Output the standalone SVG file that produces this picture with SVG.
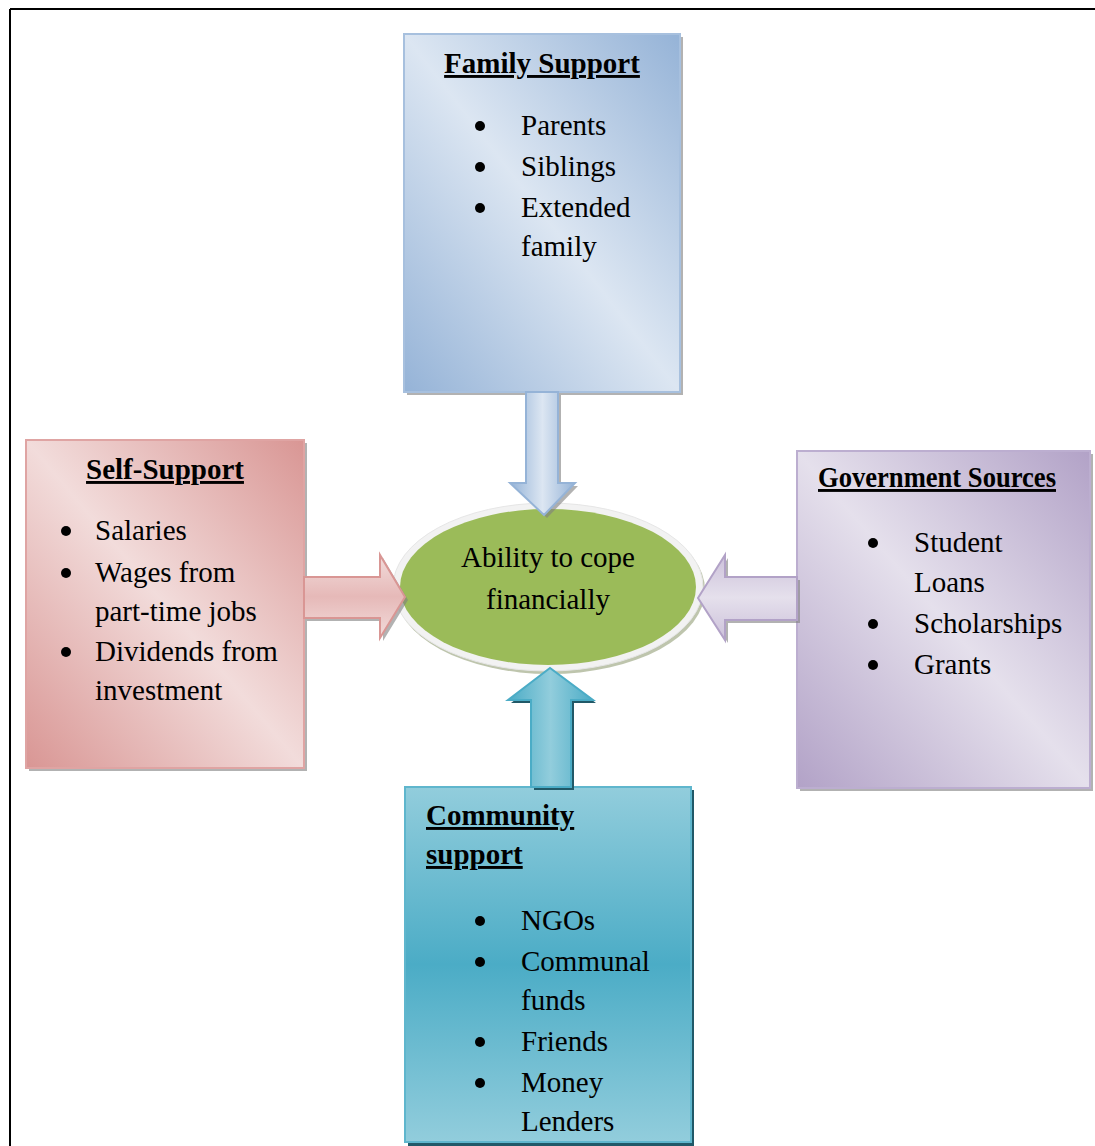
<svg xmlns="http://www.w3.org/2000/svg" width="1095" height="1146" viewBox="0 0 1095 1146">
<defs>
<linearGradient id="gBlue" x1="1" y1="0" x2="0" y2="1"><stop offset="0" stop-color="#95b3d7"/><stop offset="0.5" stop-color="#dce6f2"/><stop offset="1" stop-color="#95b3d7"/></linearGradient>
<linearGradient id="gPink" x1="1" y1="0" x2="0" y2="1"><stop offset="0" stop-color="#d99694"/><stop offset="0.5" stop-color="#f2dcdb"/><stop offset="1" stop-color="#d99694"/></linearGradient>
<linearGradient id="gPurple" x1="1" y1="0" x2="0" y2="1"><stop offset="0" stop-color="#b2a2c7"/><stop offset="0.5" stop-color="#e5e0ec"/><stop offset="1" stop-color="#b2a2c7"/></linearGradient>
<linearGradient id="gTeal" x1="0" y1="0" x2="0" y2="1"><stop offset="0" stop-color="#92cddc"/><stop offset="0.5" stop-color="#4bacc6"/><stop offset="1" stop-color="#92cddc"/></linearGradient>
<linearGradient id="aBlue" x1="0" y1="0" x2="1" y2="0"><stop offset="0" stop-color="#95b3d7"/><stop offset="0.5" stop-color="#dce6f2"/><stop offset="1" stop-color="#95b3d7"/></linearGradient>
<linearGradient id="aPink" x1="0" y1="0" x2="0" y2="1"><stop offset="0" stop-color="#f2dcdb"/><stop offset="0.5" stop-color="#e6b9b8"/><stop offset="1" stop-color="#f2dcdb"/></linearGradient>
<linearGradient id="aPurple" x1="0" y1="0" x2="0" y2="1"><stop offset="0" stop-color="#ccc1da"/><stop offset="0.5" stop-color="#e5e0ec"/><stop offset="1" stop-color="#ccc1da"/></linearGradient>
<linearGradient id="aTeal" x1="0" y1="0" x2="1" y2="0"><stop offset="0" stop-color="#4bacc6"/><stop offset="0.5" stop-color="#92cddc"/><stop offset="1" stop-color="#4bacc6"/></linearGradient>
</defs>
<style>
.t{font-family:"Liberation Serif","Times New Roman",serif;font-size:29px;fill:#000}
.h{font-family:"Liberation Serif","Times New Roman",serif;font-size:29px;font-weight:bold;fill:#000;text-decoration:underline}
.sh{fill:#7f7f7f;opacity:0.6}
</style>
<line x1="10" y1="9" x2="1095" y2="9" stroke="#000" stroke-width="2"/>
<line x1="10" y1="9" x2="10" y2="1146" stroke="#000" stroke-width="2"/>

<g id="family">
<rect class="sh" x="407" y="37" width="276" height="358"/>
<rect x="404" y="34" width="276" height="358" fill="url(#gBlue)" stroke="#a7c0de" stroke-width="2"/>
<text class="h" x="542" y="73" text-anchor="middle">Family Support</text>
<circle cx="480" cy="126" r="5"/><text class="t" x="521" y="135">Parents</text>
<circle cx="480" cy="167" r="5"/><text class="t" x="521" y="176">Siblings</text>
<circle cx="480" cy="208" r="5"/><text class="t" x="521" y="217">Extended</text>
<text class="t" x="521" y="256">family</text>
</g>

<g id="self">
<rect class="sh" x="29" y="443" width="278" height="328"/>
<rect x="26" y="440" width="278" height="328" fill="url(#gPink)" stroke="#dfa4a3" stroke-width="2"/>
<text class="h" x="165" y="479" text-anchor="middle">Self-Support</text>
<circle cx="66" cy="531" r="5"/><text class="t" x="95" y="540">Salaries</text>
<circle cx="66" cy="573" r="5"/><text class="t" x="95" y="582">Wages from</text>
<text class="t" x="95" y="621">part-time jobs</text>
<circle cx="66" cy="652" r="5"/><text class="t" x="95" y="661">Dividends from</text>
<text class="t" x="95" y="700">investment</text>
</g>

<g id="government">
<rect class="sh" x="800" y="454" width="293" height="337"/>
<rect x="797" y="451" width="293" height="337" fill="url(#gPurple)" stroke="#bcaed0" stroke-width="2"/>
<text class="h" x="818" y="487" textLength="238" lengthAdjust="spacingAndGlyphs">Government Sources</text>
<circle cx="873" cy="543" r="5"/><text class="t" x="914" y="552">Student</text>
<text class="t" x="914" y="592">Loans</text>
<circle cx="873" cy="624" r="5"/><text class="t" x="914" y="633">Scholarships</text>
<circle cx="873" cy="665" r="5"/><text class="t" x="914" y="674">Grants</text>
</g>

<g id="community">
<rect x="408" y="790" width="286" height="356" fill="#215968"/>
<rect x="405" y="787" width="286" height="355" fill="url(#gTeal)" stroke="#5fb6cd" stroke-width="2"/>
<text class="h" x="426" y="825">Community</text>
<text class="h" x="426" y="864">support</text>
<circle cx="480" cy="921" r="5"/><text class="t" x="521" y="930">NGOs</text>
<circle cx="480" cy="962" r="5"/><text class="t" x="521" y="971">Communal</text>
<text class="t" x="521" y="1010">funds</text>
<circle cx="480" cy="1042" r="5"/><text class="t" x="521" y="1051">Friends</text>
<circle cx="480" cy="1083" r="5"/><text class="t" x="521" y="1092">Money</text>
<text class="t" x="521" y="1131">Lenders</text>
</g>

<g id="center">
<ellipse cx="550" cy="590" rx="155" ry="84" fill="#a3ad8a" opacity="0.7"/>
<ellipse cx="548" cy="587" rx="155" ry="84" fill="#f2f2f2" stroke="#e6e6e6" stroke-width="1"/>
<ellipse cx="548" cy="587" rx="148" ry="78" fill="#9bbb59"/>
<text class="t" x="548" y="567" text-anchor="middle">Ability to cope</text>
<text class="t" x="548" y="609" text-anchor="middle">financially</text>
</g>

<g id="connectors">
<polygon class="sh" points="529,395 561,395 561,486 578,486 547,518 513,486 529,486"/>
<polygon points="526,392 558,392 558,483 575,483 544,515 510,483 526,483" fill="url(#aBlue)" stroke="#95b3d7" stroke-width="2" stroke-linejoin="miter"/>
<polygon class="sh" points="307,580 383,580 383,558 408,600 383,641 383,621 307,621"/>
<polygon points="304,577 380,577 380,555 405,597 380,638 380,618 304,618" fill="url(#aPink)" stroke="#d99694" stroke-width="2"/>
<polygon class="sh" points="800,580 728,580 728,558 701,601 728,643 728,623 800,623"/>
<polygon points="797,577 725,577 725,555 698,598 725,640 725,620 797,620" fill="url(#aPurple)" stroke="#b2a2c7" stroke-width="2"/>
<polygon points="534,790 534,703 511,703 553,671 596,703 574,703 574,790" fill="#215968"/>
<polygon points="531,787 531,700 508,700 550,668 593,700 571,700 571,787" fill="url(#aTeal)" stroke="#4bacc6" stroke-width="2"/>
</g>
</svg>
